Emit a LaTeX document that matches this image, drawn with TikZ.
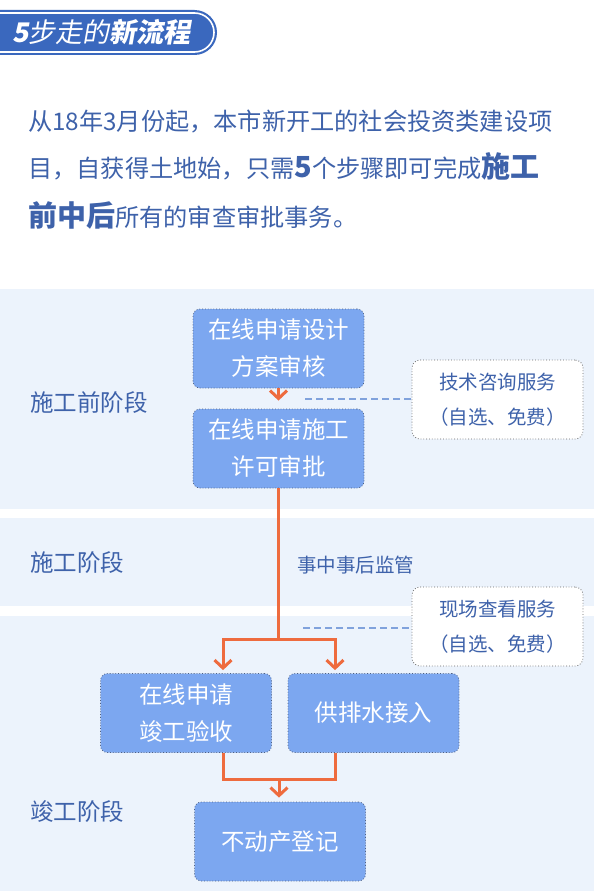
\documentclass[tikz,border=0pt]{standalone}
\usepackage{fontspec}
\setmainfont{Noto Sans CJK SC}
\newfontfamily\slantfont[FakeSlant=0.18]{Noto Sans CJK SC}
\usepackage{xcolor}
\usepackage{tikz}
\usetikzlibrary{arrows.meta,positioning}
\definecolor{titleblue}{RGB}{58,104,190}
\definecolor{textblue}{RGB}{62,98,170}
\definecolor{bandblue}{RGB}{236,243,252}
\definecolor{boxblue}{RGB}{124,167,240}
\definecolor{boxline}{RGB}{78,96,130}
\definecolor{flowred}{RGB}{238,107,62}
\definecolor{dashblue}{RGB}{128,162,220}
\tikzset{
  stepbox/.style={draw=boxline, dotted, line width=0.8pt, fill=boxblue, rounded corners=7pt, minimum width=171pt, minimum height=79pt, text=white, font=\fontsize{23.5}{37}\selectfont, align=center},
  sidebox/.style={draw=black!60, dotted, line width=0.8pt, fill=white, rounded corners=8pt, minimum width=171pt, minimum height=79pt, text=textblue, font=\fontsize{19.5}{35}\selectfont, align=center},
  flow/.style={draw=flowred, line width=3pt},
  flowtip/.style={flow, -{Straight Barb[length=8pt,width=17pt,line width=3pt]}},
  hint/.style={draw=dashblue, line width=1.5pt, dash pattern=on 7pt off 4pt},
  stagelabel/.style={anchor=west, inner sep=0pt, text=textblue, font=\fontsize{23.5}{27}\selectfont},
  paraline/.style={anchor=west, inner sep=0pt, text=textblue, font=\fontsize{24.2}{28}\selectfont}
}

\begin{document}
\begin{tikzpicture}[x=1pt,y=1pt,yscale=-1,xscale=1]
\useasboundingbox (0,0) rectangle (594,891);
\fill[white] (0,0) rectangle (594,891);

%Shape: Title pill
\fill[titleblue] (0,10) -- (194.5,10) arc[start angle=-90,end angle=90,radius=22.5] -- (0,55) -- cycle ;
\draw[white, line width=1.6pt] (0,13) -- (194.5,13) arc[start angle=-90,end angle=90,radius=19.5] -- (0,52) ;
% Text Node
\node (title) [anchor=west, inner sep=0pt, text=white, font=\fontsize{27}{30}\selectfont\slantfont] at (12,32.5) {\bfseries 5\mdseries 步走的\bfseries 新流程};

% Text Node
\node (line1) [paraline] at (28,122) {从18年3月份起，本市新开工的社会投资类建设项};
\node (line2) [paraline] at (28,166) {目，自获得土地始，只需{\bfseries\fontsize{29}{30}\selectfont 5}个步骤即可完成{\bfseries\fontsize{29}{30}\selectfont 施工}};
\node (line3) [paraline] at (28,215) {{\bfseries\fontsize{29}{30}\selectfont 前中后}所有的审查审批事务。};

%Shape: Rectangle (stage bands)
\fill[bandblue] (0,289) rectangle (594,509) ;
\fill[bandblue] (0,518) rectangle (594,606) ;
\fill[bandblue] (0,616) rectangle (594,891) ;

% Text Node
\node (pre) [stagelabel] at (30,403) {施工前阶段};
\node (during) [stagelabel] at (30,563) {施工阶段};
\node (post) [stagelabel] at (30,812) {竣工阶段};

% Step boxes
\node (design) [stepbox] at (278.5,348.5) {在线申请设计\\方案审核};
\node (permit) [stepbox] at (278.5,448.5) {在线申请施工\\许可审批};
\node (accept) [stepbox] at (186,713) {在线申请\\竣工验收};
\node (water) [stepbox] at (373.5,713) {供排水接入};
\node (register) [stepbox] at (280,841.5) {不动产登记};

% Service boxes
\node (consult) [sidebox] at (497.5,399.5) {技术咨询服务\\（自选、免费）};
\node (visit) [sidebox] at (497.5,626.5) {现场查看服务\\（自选、免费）};

% Text Node
\node (supervise) [anchor=west, inner sep=0pt, text=textblue, font=\fontsize{19.5}{22}\selectfont] at (297,565) {事中事后监管};

% Connectors
\coordinate (hintA) at (305,399);
\coordinate (hintB) at (303,628);
\draw[hint] (hintA) -- (hintA -| consult.west) ;
\draw[hint] (hintB) -- (hintB -| visit.west) ;

\draw[flowtip, shorten >=8pt] (design) -- (permit) ;

\coordinate (fork) at (278.5,639);
\coordinate (forkL) at (223,639);
\coordinate (forkR) at (335,639);
\draw[flow] (permit.south) -- (fork) ;
\draw[flow, line cap=rect] (forkL) -- (forkR) ;
\draw[flowtip, shorten >=3pt] (forkL) -- (forkL |- accept.north) ;
\draw[flowtip, shorten >=3pt] (forkR) -- (forkR |- water.north) ;

\coordinate (joinL) at (223,779);
\coordinate (joinR) at (335,779);
\coordinate (join) at (279,779);
\draw[flow] (joinL |- accept.south) -- (joinL) -- (joinR) -- (joinR |- water.south) ;
\draw[flowtip, shorten >=4pt] (join) -- (join |- register.north) ;

\end{tikzpicture}
\end{document}
